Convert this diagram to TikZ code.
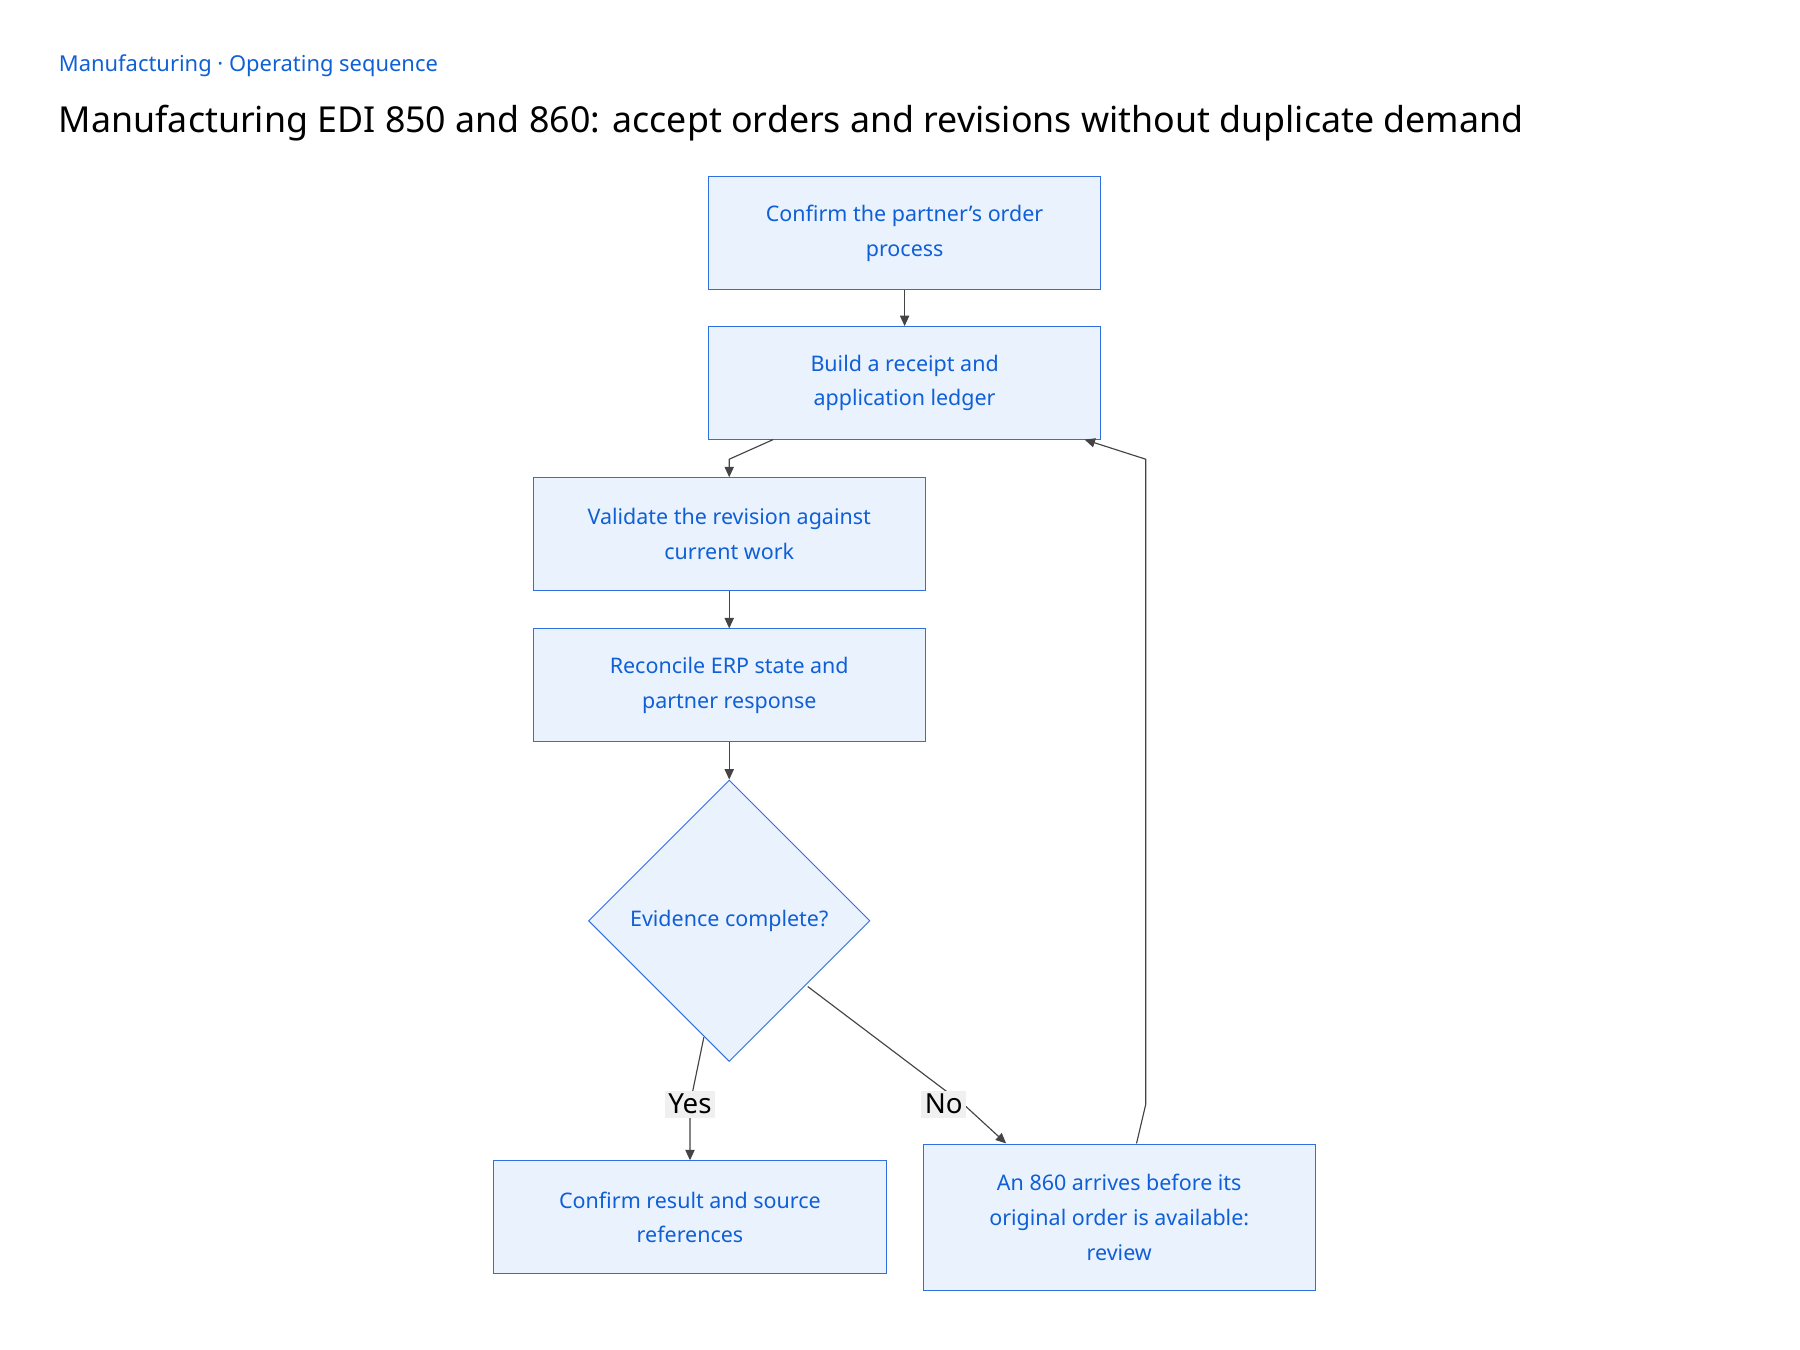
\documentclass[tikz,border=0pt]{standalone}
\usepackage{fontspec}
\setmainfont{Noto Sans}
\usetikzlibrary{shapes.geometric,arrows.meta}
\definecolor{bfill}{HTML}{EAF2FE}
\definecolor{bdraw}{HTML}{2F6FE0}
\definecolor{btext}{HTML}{0F5FD7}
\definecolor{edge}{HTML}{444444}
\tikzset{
 box/.style={draw=bdraw,fill=bfill,text=btext,minimum width=170pt,minimum height=49pt,align=center,font=\fontsize{9.3}{15}\selectfont,inner sep=0pt},
 dia/.style={diamond,draw=bdraw,fill=bfill,text=btext,minimum width=122pt,minimum height=122pt,inner sep=0pt,font=\fontsize{9.3}{15}\selectfont},
 conn/.style={draw=edge,line width=0.5pt,-{Triangle[length=4.5pt,width=4pt]}},
 lab/.style={fill=black!6,text=black,font=\fontsize{12}{14}\selectfont,inner sep=1.5pt}
}
\begin{document}
\begin{tikzpicture}[x=0.5pt,y=-0.5pt]
\useasboundingbox (0,0) rectangle (1560,1170);
\node[anchor=west,text=btext,font=\fontsize{9.5}{11}\selectfont] (crumb) at (44,57) {Manufacturing · Operating sequence};
\node[anchor=west,font=\fontsize{15.5}{18}\selectfont] (title) at (44,107) {Manufacturing EDI 850 and 860: accept orders and revisions without duplicate demand};
\node[box] (b1) at (784,202) {Confirm the partner’s order\\process};
\node[box] (b2) at (784,332) {Build a receipt and\\application ledger};
\node[box] (b3) at (632,463) {Validate the revision against\\current work};
\node[box] (b4) at (632,594) {Reconcile ERP state and\\partner response};
\node[dia] (d) at (632,798) {Evidence complete?};
\node[box] (b5) at (598,1055) {Confirm result and source\\references};
\node[box,minimum height=63pt] (b6) at (970,1055) {An 860 arrives before its\\original order is available:\\review};
\coordinate (p1) at (670,381);
\coordinate (p2) at (632,398);
\draw[conn] (b1) -- (b2);
\draw[conn] (p1) -- (p2) -- (b3.north);
\draw[conn] (b3) -- (b4);
\draw[conn] (b4) -- (d.north);
\coordinate (y1) at (610,899);
\coordinate (y2) at (598,957);
\draw[conn] (y1) -- (y2) -- (b5.north);
\node[lab] (yes) at (598,957) {Yes};
\coordinate (n1) at (700,855);
\coordinate (n2) at (835,957);
\coordinate (n3) at (872,991);
\draw[conn] (n1) -- (n2) -- (n3);
\node[lab] (no) at (818,957) {No};
\coordinate (r1) at (985,991);
\coordinate (r2) at (993,957);
\coordinate (r3) at (993,398);
\coordinate (r4) at (940,381);
\draw[conn] (r1) -- (r2) -- (r3) -- (r4);
\end{tikzpicture}
\end{document}
